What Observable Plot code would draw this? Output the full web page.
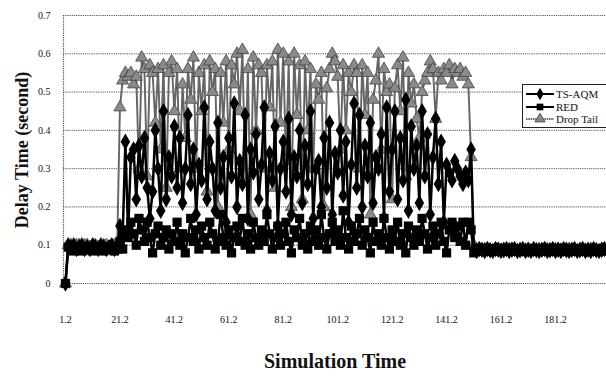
<!DOCTYPE html>
<html>
<head>
<meta charset="utf-8">
<script src="https://cdn.jsdelivr.net/npm/d3@7"></script>
<script src="https://cdn.jsdelivr.net/npm/@observablehq/plot@0.6"></script>
<style>
  html, body { margin: 0; padding: 0; background: #fff; }
  #chart { position: relative; width: 606px; height: 378px; overflow: hidden; }
  #legend { position: absolute; left: 522px; top: 84px; width: 90px; height: 44px; border: 1px solid #222;
    background: #fff; font-family: "Liberation Serif", serif; font-size: 11px; color: #111; box-sizing: border-box; }
  #legend .row { position: absolute; left: 2px; height: 12px; display: flex; align-items: center; white-space: nowrap; }
  #legend svg { margin-right: 1px; }
</style>
</head>
<body>
<div id="chart"></div>
<script>
// Category axis (Simulation Time)
const tickLabels = [1.2, 21.2, 41.2, 61.2, 81.2, 101.2, 121.2, 141.2, 161.2, 181.2];
const yTicks = [0, 0.1, 0.2, 0.3, 0.4, 0.5, 0.6, 0.7];
const seriesNames = ["TS-AQM", "RED", "Drop Tail"];

// Delay time (seconds), one value per simulation time step starting at 1.2
const tsAqm = [
  0, 0.1, 0.095, 0.1, 0.09, 0.095, 0.1, 0.09, 0.095, 0.09,
  0.1, 0.095, 0.09, 0.1, 0.095, 0.09, 0.095, 0.1, 0.09, 0.095,
  0.15, 0.12, 0.37, 0.13, 0.33, 0.35, 0.22, 0.36, 0.28, 0.38,
  0.25, 0.17, 0.24, 0.40, 0.30, 0.19, 0.45, 0.22, 0.33, 0.28,
  0.41, 0.25, 0.38, 0.21, 0.30, 0.44, 0.26, 0.35, 0.18, 0.31,
  0.27, 0.46, 0.22, 0.37, 0.30, 0.19, 0.42, 0.25, 0.33, 0.16,
  0.38, 0.28, 0.47, 0.20, 0.32, 0.26, 0.44, 0.17, 0.35, 0.29,
  0.39, 0.22, 0.31, 0.46, 0.19, 0.34, 0.27, 0.41, 0.15, 0.30,
  0.37, 0.24, 0.43, 0.18, 0.33, 0.28, 0.40, 0.21, 0.36, 0.26,
  0.45, 0.17, 0.30, 0.32, 0.20, 0.38, 0.25, 0.42, 0.18, 0.34,
  0.29, 0.40, 0.23, 0.37, 0.16, 0.31, 0.47, 0.25, 0.44, 0.20,
  0.36, 0.28, 0.42, 0.21, 0.33, 0.30, 0.39, 0.17, 0.46, 0.24,
  0.35, 0.45, 0.22, 0.38, 0.27, 0.48, 0.19, 0.41, 0.30, 0.36,
  0.21, 0.45, 0.28, 0.39, 0.18, 0.33, 0.43, 0.26, 0.37, 0.16,
  0.31, 0.29, 0.27, 0.32, 0.30, 0.28, 0.26, 0.29, 0.27, 0.35,
  0.09, 0.085, 0.09, 0.088, 0.085, 0.09, 0.087, 0.085, 0.09, 0.088,
  0.085, 0.087, 0.09, 0.085, 0.088, 0.09, 0.085, 0.087, 0.09, 0.085,
  0.088, 0.085, 0.09, 0.087, 0.085, 0.088, 0.09, 0.085, 0.087, 0.09,
  0.085, 0.088, 0.085, 0.09, 0.087, 0.085, 0.088, 0.09, 0.085, 0.087,
  0.09, 0.085, 0.088, 0.085, 0.09, 0.087, 0.085, 0.088, 0.09
];
const red = [
  0, 0.095, 0.09, 0.085, 0.09, 0.095, 0.085, 0.09, 0.095, 0.09,
  0.085, 0.09, 0.095, 0.09, 0.085, 0.09, 0.095, 0.09, 0.085, 0.09,
  0.11, 0.09, 0.14, 0.12, 0.16, 0.13, 0.10, 0.17, 0.14, 0.11,
  0.16, 0.12, 0.08, 0.13, 0.15, 0.10, 0.12, 0.14, 0.09, 0.13,
  0.11, 0.16, 0.10, 0.13, 0.08, 0.12, 0.17, 0.11, 0.14, 0.09,
  0.15, 0.12, 0.10, 0.16, 0.13, 0.09, 0.11, 0.18, 0.12, 0.10,
  0.14, 0.08, 0.12, 0.15, 0.11, 0.17, 0.10, 0.13, 0.09, 0.16,
  0.12, 0.10, 0.14, 0.11, 0.18, 0.13, 0.09, 0.12, 0.15, 0.10,
  0.13, 0.16, 0.11, 0.08, 0.14, 0.12, 0.17, 0.10, 0.13, 0.09,
  0.15, 0.11, 0.14, 0.10, 0.18, 0.12, 0.09, 0.13, 0.16, 0.11,
  0.14, 0.10, 0.19, 0.12, 0.09, 0.15, 0.11, 0.13, 0.17, 0.10,
  0.14, 0.12, 0.08, 0.16, 0.11, 0.13, 0.10, 0.17, 0.12, 0.09,
  0.14, 0.11, 0.16, 0.10, 0.13, 0.08, 0.15, 0.12, 0.10, 0.14,
  0.11, 0.17, 0.13, 0.09, 0.12, 0.15, 0.10, 0.13, 0.16, 0.11,
  0.08, 0.14, 0.16, 0.12, 0.15, 0.11, 0.16, 0.10, 0.16, 0.14,
  0.08, 0.09, 0.085, 0.09, 0.087, 0.085, 0.09, 0.088, 0.085, 0.09,
  0.087, 0.085, 0.09, 0.088, 0.085, 0.087, 0.09, 0.085, 0.088, 0.09,
  0.085, 0.087, 0.09, 0.085, 0.088, 0.09, 0.085, 0.087, 0.09, 0.085,
  0.088, 0.09, 0.085, 0.087, 0.09, 0.085, 0.088, 0.085, 0.09, 0.087,
  0.085, 0.088, 0.09, 0.085, 0.087, 0.09, 0.085, 0.088, 0.085
];
const dropTail = [
  0, 0.1, 0.1, 0.095, 0.1, 0.1, 0.095, 0.1, 0.1, 0.095,
  0.1, 0.1, 0.095, 0.1, 0.1, 0.1, 0.095, 0.1, 0.1, 0.1,
  0.46, 0.53, 0.55, 0.54, 0.55, 0.52, 0.54, 0.30, 0.59, 0.56,
  0.28, 0.57, 0.55, 0.42, 0.56, 0.35, 0.57, 0.25, 0.55, 0.58,
  0.45, 0.56, 0.30, 0.52, 0.38, 0.56, 0.48, 0.59, 0.30, 0.55,
  0.45, 0.57, 0.24, 0.58, 0.50, 0.56, 0.20, 0.55, 0.42, 0.58,
  0.35, 0.57, 0.52, 0.60, 0.45, 0.61, 0.28, 0.56, 0.18, 0.59,
  0.40, 0.57, 0.55, 0.30, 0.57, 0.46, 0.58, 0.25, 0.61, 0.42,
  0.60, 0.32, 0.58, 0.20, 0.60, 0.44, 0.57, 0.22, 0.58, 0.40,
  0.56, 0.30, 0.52, 0.48, 0.55, 0.20, 0.51, 0.56, 0.60, 0.58,
  0.54, 0.35, 0.57, 0.40, 0.55, 0.50, 0.57, 0.55, 0.30, 0.57,
  0.44, 0.55, 0.18, 0.48, 0.53, 0.60, 0.35, 0.56, 0.50, 0.52,
  0.22, 0.51, 0.57, 0.45, 0.59, 0.28, 0.55, 0.47, 0.52, 0.43,
  0.38, 0.50, 0.53, 0.55, 0.58, 0.56, 0.43, 0.55, 0.53, 0.56,
  0.55, 0.57, 0.52, 0.56, 0.55, 0.56, 0.54, 0.55, 0.52, 0.33,
  0.10, 0.09, 0.09, 0.085, 0.09, 0.09, 0.088, 0.085, 0.09, 0.09,
  0.088, 0.09, 0.085, 0.09, 0.09, 0.088, 0.085, 0.09, 0.09, 0.088,
  0.09, 0.085, 0.09, 0.088, 0.09, 0.085, 0.09, 0.09, 0.088, 0.085,
  0.09, 0.09, 0.088, 0.085, 0.09, 0.09, 0.088, 0.09, 0.085, 0.09,
  0.09, 0.088, 0.085, 0.09, 0.09, 0.088, 0.085, 0.09, 0.09
];

// Category positions: 1.2, 2.2, 3.2, ...
const times = tsAqm.map((_, i) => Math.round((1.2 + i) * 10) / 10);
const rows = (vals) => vals.map((v, i) => ({t: times[i], v}));
const tsRows = rows(tsAqm), redRows = rows(red), dtRows = rows(dropTail);

const serif = "'Liberation Serif', 'Times New Roman', serif";
const grid = "#555";

const chart = Plot.plot({
  width: 606,
  height: 378,
  marginLeft: 63,
  marginRight: 0,
  marginTop: 15,
  marginBottom: 95,
  style: {fontFamily: serif, fontSize: "10px", color: "#111", background: "#fff", overflow: "visible"},
  x: {domain: [0.47, 199.95]},
  y: {domain: [0, 0.7]},
  marks: [
    Plot.ruleY(yTicks, {stroke: grid, strokeWidth: 1, strokeDasharray: "1.2,1"}),
    Plot.ruleX([0.47], {stroke: grid, strokeWidth: 1.2, strokeDasharray: "1.2,1"}),
    Plot.axisY({ticks: yTicks, tickSize: 0, tickPadding: 13, label: null, tickFormat: d => String(d)}),
    Plot.axisX({ticks: tickLabels, tickSize: 0, tickPadding: 32, label: null, tickFormat: d => String(d)}),
    // Drop Tail
    Plot.line(dtRows, {x: "t", y: "v", stroke: "#666", strokeWidth: 2, strokeDasharray: "1.5,0.8"}),
    Plot.dot(dtRows, {x: "t", y: "v", symbol: "triangle", r: 4.5, fill: "#8a8a8a", stroke: "#444", strokeWidth: 0.8}),
    // TS-AQM
    Plot.line(tsRows, {x: "t", y: "v", stroke: "#000", strokeWidth: 2.5}),
    Plot.dot(tsRows, {x: "t", y: "v", symbol: "diamond", r: 5, fill: "#000"}),
    // RED
    Plot.line(redRows, {x: "t", y: "v", stroke: "#000", strokeWidth: 2.5}),
    Plot.dot(redRows, {x: "t", y: "v", symbol: "square", r: 5.2, fill: "#000"})
  ]
});

const svg = d3.select(chart);
svg.append("text")
  .attr("transform", "translate(22,150) rotate(-90)")
  .attr("text-anchor", "middle")
  .attr("dominant-baseline", "central")
  .attr("font-family", serif).attr("font-weight", "bold").attr("font-size", 18)
  .attr("fill", "#111")
  .text("Delay Time (second)");
svg.append("text")
  .attr("x", 335).attr("y", 361)
  .attr("text-anchor", "middle")
  .attr("dominant-baseline", "central")
  .attr("font-family", serif).attr("font-weight", "bold").attr("font-size", 20)
  .attr("fill", "#111")
  .text("Simulation Time");

document.getElementById("chart").appendChild(chart);

// Legend
const legend = document.createElement("div");
legend.id = "legend";
const swatches = [
  {name: seriesNames[0], stroke: "#000", dash: null, sym: "diamond", fill: "#000"},
  {name: seriesNames[1], stroke: "#000", dash: null, sym: "square", fill: "#000"},
  {name: seriesNames[2], stroke: "#666", dash: "1.5,0.8", sym: "triangle", fill: "#8a8a8a"}
];
swatches.forEach((s, i) => {
  const row = document.createElement("div");
  row.className = "row";
  row.style.top = (3 + i * 12.5) + "px";
  const sw = d3.create("svg").attr("width", 30).attr("height", 12);
  sw.append("line").attr("x1", 1).attr("x2", 29).attr("y1", 6).attr("y2", 6)
    .attr("stroke", s.stroke).attr("stroke-width", 2).attr("stroke-dasharray", s.dash);
  sw.append("path").attr("transform", "translate(15,6)")
    .attr("d", d3.symbol(s.sym === "diamond" ? d3.symbolDiamond : s.sym === "square" ? d3.symbolSquare : d3.symbolTriangle, 45)())
    .attr("fill", s.fill).attr("stroke", s.sym === "triangle" ? "#444" : "none").attr("stroke-width", 0.8);
  row.appendChild(sw.node());
  const label = document.createElement("span");
  label.textContent = s.name;
  row.appendChild(label);
  legend.appendChild(row);
});
document.getElementById("chart").appendChild(legend);
</script>
</body>
</html>
